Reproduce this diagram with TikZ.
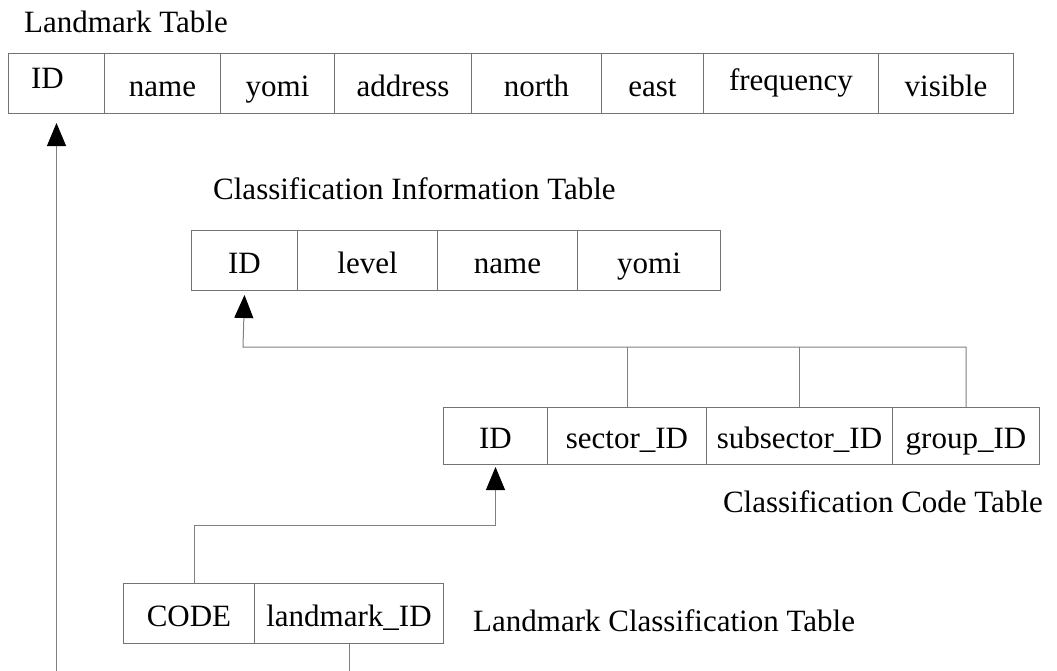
\documentclass[tikz,border=0pt]{standalone}
\usepackage{fontspec}
\setmainfont{Liberation Serif}
\usetikzlibrary{arrows.meta}

\tikzset{
  txt/.style={font=\fontsize{31pt}{37pt}\selectfont, inner sep=0pt},
  title/.style={txt},
  cell/.style={txt, draw=black!55, line width=1pt, minimum height=60pt,
    anchor=north west, text height=31pt, text depth=6pt},
  link/.style={draw=black!50, line width=1pt},
  fk/.style={link, -{Triangle[width=19pt,length=23pt,black]}}
}

\begin{document}
\begin{tikzpicture}[x=1pt,y=-1pt]
\useasboundingbox (0,0) rectangle (1057,670);

% ---------- Landmark Table ----------
\node[title, anchor=base west] (lm-title) at (24,32) {Landmark Table};
\node[cell, minimum width=96pt]  (lm-id)   at (8,53)   {\raisebox{8pt}{ID}\hspace*{18pt}};
\node[cell, minimum width=116pt] (lm-name) at (104,53) {name};
\node[cell, minimum width=114pt] (lm-yomi) at (220,53) {yomi};
\node[cell, minimum width=137pt] (lm-addr) at (334,53) {address};
\node[cell, minimum width=130pt] (lm-north) at (471,53) {north};
\node[cell, minimum width=102pt] (lm-east) at (601,53) {east};
\node[cell, minimum width=175pt] (lm-freq) at (703,53) {\raisebox{6pt}{frequency}};
\node[cell, minimum width=135pt] (lm-vis)  at (878,53) {visible};

% ---------- Classification Information Table ----------
\node[title, anchor=base west] (ci-title) at (213,199) {Classification Information Table};
\node[cell, minimum width=106pt] (ci-id)    at (191,230) {ID};
\node[cell, minimum width=140pt] (ci-level) at (297,230) {level};
\node[cell, minimum width=140pt] (ci-name)  at (437,230) {name};
\node[cell, minimum width=143pt] (ci-yomi)  at (577,230) {yomi};

% ---------- Classification Code Table ----------
\node[cell, minimum width=104pt, minimum height=57pt] (cc-id)  at (443,407) {ID};
\node[cell, minimum width=159pt, minimum height=57pt] (cc-sec) at (547,407) {sector\_ID};
\node[cell, minimum width=186pt, minimum height=57pt] (cc-sub) at (706,407) {subsector\_ID};
\node[cell, minimum width=147pt, minimum height=57pt] (cc-grp) at (892,407) {group\_ID};
\node[title, anchor=base east] (cc-title) at (1043,512) {Classification Code Table};

% ---------- Landmark Classification Table ----------
\node[cell, minimum width=131pt] (cl-code) at (123,583) {CODE};
\node[cell, minimum width=189pt] (cl-lmid) at (254,583) {landmark\_ID};
\node[title, anchor=base west] (cl-title) at (473,631) {Landmark Classification Table};

% ---------- references ----------
% code table columns -> classification information ID
\coordinate (bus) at (243,347);
\draw[fk] (cc-grp.north) |- (bus) -- ([yshift=-4pt]ci-id.south);
\draw[link] (cc-sub.north) -- (cc-sub.north |- bus);
\draw[link] (cc-sec.north) -- (cc-sec.north |- bus);

% CODE -> classification code ID
\draw[fk] ([xshift=5pt]cl-code.north) -- ++(0,-58) -| ([yshift=-2pt]cc-id.south);

% landmark_ID -> landmark ID (joined below the frame)
\path (lm-id.south) ++(0,557) coordinate (lmfoot);
\path (cl-lmid.south) ++(0,27) coordinate (clfoot);
\draw[fk] (lmfoot) -- ([yshift=-9pt]lm-id.south);
\draw[link] (cl-lmid.south) -- (clfoot);
\end{tikzpicture}
\end{document}
